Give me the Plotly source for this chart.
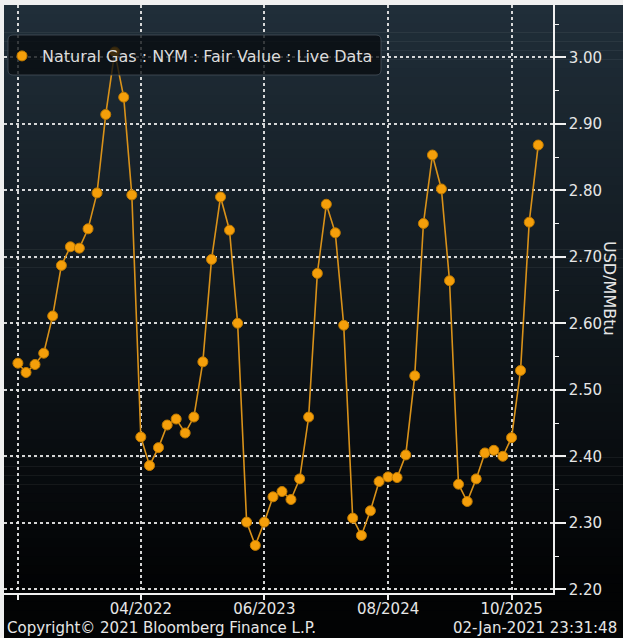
import plotly.graph_objects as go
import pandas as pd

# ---- data ----
months = pd.date_range("2021-02-01", periods=60, freq="MS")
fair_value = [
    2.540, 2.526, 2.538, 2.555, 2.611, 2.687, 2.715, 2.713, 2.742, 2.796, 2.914,   # Feb21-Dec21
    3.008, 2.940, 2.793, 2.429, 2.386, 2.413, 2.447, 2.456, 2.435, 2.459, 2.542, 2.696,  # 2022
    2.790, 2.740, 2.600, 2.301, 2.266, 2.301, 2.339, 2.347, 2.335, 2.366, 2.459, 2.675,  # 2023
    2.779, 2.736, 2.597, 2.307, 2.281, 2.318, 2.362, 2.369, 2.368, 2.402, 2.521, 2.750,  # 2024
    2.853, 2.802, 2.664, 2.358, 2.332, 2.366, 2.405, 2.409, 2.400, 2.428, 2.529, 2.752,  # 2025
    2.868,                                                                              # Jan26
]
x_tick_vals = ["2021-02-01", "2022-04-01", "2023-06-01", "2024-08-01", "2025-10-01"]
x_tick_text = ["", "04/2022", "06/2023", "08/2024", "10/2025"]
y_tick_vals = [2.2, 2.3, 2.4, 2.5, 2.6, 2.7, 2.8, 2.9, 3.0]
series_name = "Natural Gas : NYM : Fair Value : Live Data"
y_title = "USD/MMBtu"
copyright_text = "Copyright\u00a9 2021 Bloomberg Finance L.P."
timestamp_text = "02-Jan-2021 23:31:48"

# ---- layout geometry ----
W, H = 623, 638
ML, MR, MT, MB = 4, 70, 5, 45
PW, PH = W - ML - MR, H - MT - MB


def px_x(p):
    return (p - ML) / PW


def px_y(p):
    return (H - MB - p) / PH


FONT = "DejaVu Sans"
ORANGE = "#f59f0a"

fig = go.Figure()
fig.add_trace(go.Scatter(
    x=months, y=fair_value, mode="lines+markers",
    line=dict(color="#d9921a", width=1.6),
    marker=dict(size=10, color=ORANGE, line=dict(color="#c07a00", width=1)),
    showlegend=False, name=series_name,
))
# legend entry (marker only)
fig.add_trace(go.Scatter(
    x=[None], y=[None], mode="markers", name=series_name,
    marker=dict(size=10, color=ORANGE, line=dict(color="#c07a00", width=1)),
))

# background gradient bands
shapes = []
top_c = (32, 46, 57)
bot_c = (2, 3, 4)
N = 70
y_start, y_end = 5, 638
grad_end = 585
for i in range(N):
    p0 = y_start + (y_end - y_start) * i / N
    p1 = y_start + (y_end - y_start) * (i + 1) / N
    t = min(1.0, max(0.0, ((p0 + p1) / 2 - y_start) / (grad_end - y_start)))
    c = tuple(round(top_c[k] * (1 - t) + bot_c[k] * t) for k in range(3))
    shapes.append(dict(
        type="rect", xref="paper", yref="paper", layer="below",
        x0=px_x(4), x1=px_x(W + 2), y0=px_y(p1 + 0.6), y1=px_y(p0),
        fillcolor="rgb(%d,%d,%d)" % c, line=dict(width=0),
    ))

# rounded legend box
bx0, bx1, by0, by1 = px_x(8), px_x(381), px_y(75), px_y(35)
rx, ry = 5 / PW, 5 / PH
path = (
    f"M {bx0+rx},{by0} L {bx1-rx},{by0} Q {bx1},{by0} {bx1},{by0+ry} "
    f"L {bx1},{by1-ry} Q {bx1},{by1} {bx1-rx},{by1} "
    f"L {bx0+rx},{by1} Q {bx0},{by1} {bx0},{by1-ry} "
    f"L {bx0},{by0+ry} Q {bx0},{by0} {bx0+rx},{by0} Z"
)
shapes.append(dict(
    type="path", xref="paper", yref="paper", layer="above", path=path,
    fillcolor="rgba(8,12,16,0.78)", line=dict(color="rgba(70,80,90,0.8)", width=1),
))

fig.update_layout(
    width=W, height=H,
    margin=dict(l=ML, r=MR, t=MT, b=MB, pad=0, autoexpand=False),
    paper_bgcolor="#f0f0f0",
    plot_bgcolor="rgba(0,0,0,0)",
    shapes=shapes,
    font=dict(family=FONT, size=15, color="#e6e6e6"),
    showlegend=True,
    legend=dict(
        x=px_x(2), y=px_y(56), xanchor="left", yanchor="middle",
        bgcolor="rgba(0,0,0,0)", borderwidth=0,
        font=dict(family=FONT, size=16, color="#dcdcdc"),
    ),
    xaxis=dict(
        type="date",
        range=["2020-12-15", "2026-02-21"],
        tickmode="array", tickvals=x_tick_vals, ticktext=x_tick_text,
        showgrid=True, gridcolor="rgba(235,235,235,0.9)", griddash="3px,3px", gridwidth=1.5,
        showline=True, linecolor="#f0f0f0", linewidth=1.5,
        ticks="outside", ticklen=5, tickwidth=1.5, tickcolor="#f0f0f0",
        tickfont=dict(family=FONT, size=15, color="#e6e6e6"),
        ticklabelstandoff=-4,
        zeroline=False,
    ),
    yaxis=dict(
        side="right",
        range=[2.1944, 3.0786],
        tickmode="array", tickvals=y_tick_vals, tickformat=".2f",
        showgrid=True, gridcolor="rgba(235,235,235,0.9)", griddash="3px,3px", gridwidth=1.5,
        showline=True, linecolor="#f0f0f0", linewidth=1.5,
        ticks="outside", ticklen=11, tickwidth=2, tickcolor="#f0f0f0",
        minor=dict(dtick=0.05, tick0=2.2, ticks="outside", ticklen=4,
                   tickwidth=1, tickcolor="#f0f0f0", showgrid=False),
        tickfont=dict(family=FONT, size=15, color="#e6e6e6"),
        zeroline=False,
    ),
    annotations=[
        dict(text=y_title, xref="paper", yref="paper", x=px_x(610), y=px_y(289),
             xanchor="center", yanchor="middle", textangle=90, showarrow=False,
             font=dict(family=FONT, size=16, color="#e6e6e6")),
        dict(text=copyright_text, xref="paper", yref="paper", x=px_x(5), y=px_y(628),
             xanchor="left", yanchor="middle", showarrow=False,
             font=dict(family=FONT, size=15, color="#e6e6e6")),
        dict(text=timestamp_text, xref="paper", yref="paper", x=px_x(619), y=px_y(628),
             xanchor="right", yanchor="middle", showarrow=False,
             font=dict(family=FONT, size=15, color="#e6e6e6")),
    ],
)

fig.write_html(
    "out.html",
    config={"displayModeBar": False},
    post_script="document.body.style.margin='0';document.body.style.background='#f0f0f0';",
)
